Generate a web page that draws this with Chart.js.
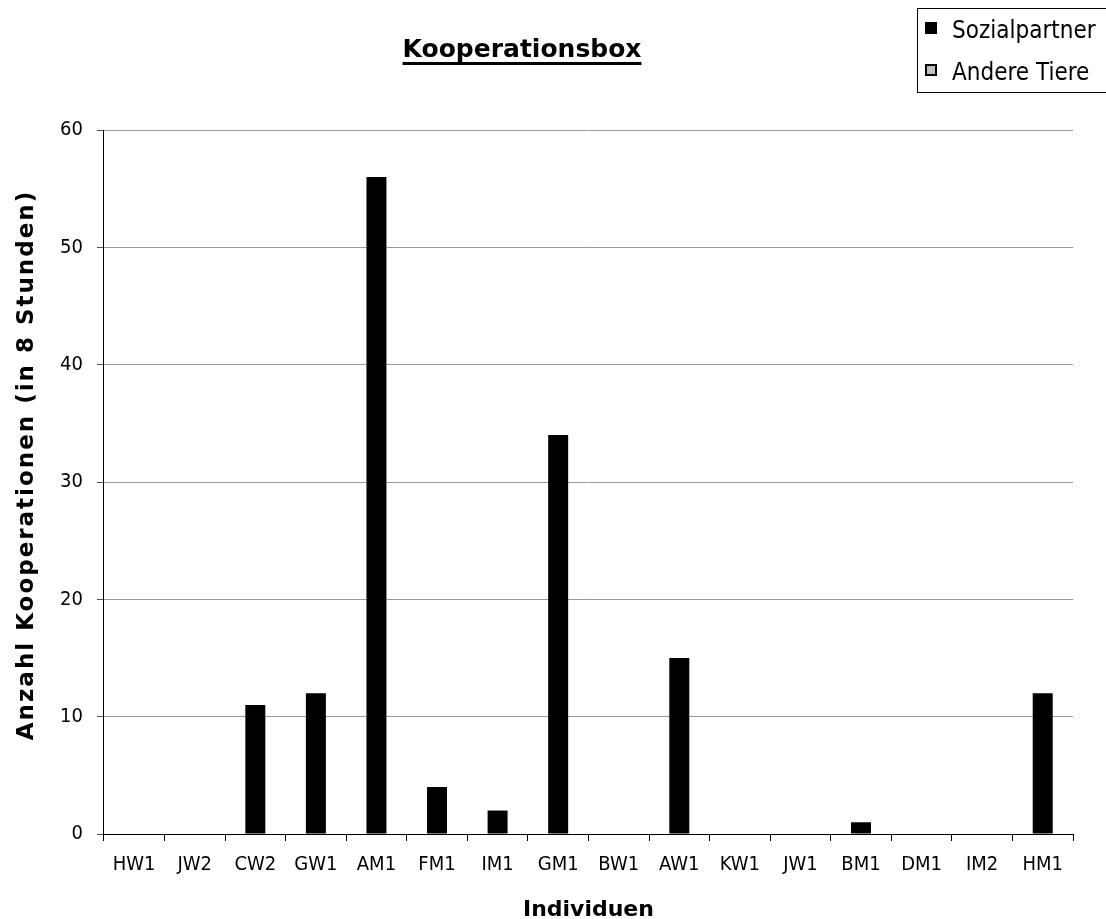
<!DOCTYPE html>
<html lang="de">
<head>
<meta charset="utf-8">
<title>Kooperationsbox</title>
<script src="https://cdn.jsdelivr.net/npm/chart.js@4"></script>
<style>
    html, body { margin: 0; padding: 0; background: #fff; }
    #wrap { width: 1106px; height: 919px; }
</style>
</head>
<body>
<div id="wrap">
    <canvas id="koopChart" width="1106" height="919"></canvas>
</div>
<script>
// Individuen auf der x-Achse
const individuen = ['HW1', 'JW2', 'CW2', 'GW1', 'AM1', 'FM1', 'IM1', 'GM1',
    'BW1', 'AW1', 'KW1', 'JW1', 'BM1', 'DM1', 'IM2', 'HM1'];

// Kooperationen mit Sozialpartner / mit anderen Tieren
const sozialpartner = [0, 0, 11, 12, 56, 4, 2, 34, 0, 15, 0, 0, 1, 0, 0, 12];
const andereTiere   = [0, 0, 0, 0, 0, 0, 0, 0, 0, 0, 0, 0, 0, 0, 0, 0];

// y-Achse
const yMin = 0;
const yMax = 60;
const yStep = 10;

const chartTitle = 'Kooperationsbox';
const xTitle = 'Individuen';
const yTitle = 'Anzahl Kooperationen (in 8 Stunden)';

const fontFamily = '"DejaVu Sans", Verdana, sans-serif';
const fontSchmal = '"DejaVu Sans Condensed", "Liberation Sans", sans-serif';

// Titel (unterstrichen), Achsentitel und Legende im Kasten
const beschriftung = {
    id: 'beschriftung',
    afterDraw(chart) {
        const ctx = chart.ctx;
        const area = chart.chartArea;
        ctx.save();
        ctx.fillStyle = '#000';

        // Diagrammtitel
        ctx.font = 'bold 25px ' + fontFamily;
        ctx.textAlign = 'center';
        ctx.textBaseline = 'alphabetic';
        const tx = 522, ty = 57;
        ctx.fillText(chartTitle, tx, ty);
        const tw = ctx.measureText(chartTitle).width;
        ctx.fillRect(tx - tw / 2, ty + 5, tw, 3);

        // x-Achsentitel
        ctx.font = 'bold 22px ' + fontFamily;
        ctx.fillText(xTitle, (area.left + area.right) / 2, 916);

        // y-Achsentitel, gedreht
        ctx.save();
        ctx.translate(33, 465);
        ctx.rotate(-Math.PI / 2);
        ctx.font = 'bold 23px ' + fontFamily;
        ctx.letterSpacing = '2px';
        ctx.textAlign = 'center';
        ctx.fillText(yTitle, 0, 0);
        ctx.restore();

        // Legende
        const lx = 917, ly = 8, lh = 84;
        ctx.strokeStyle = '#000';
        ctx.lineWidth = 1;
        ctx.strokeRect(lx + 0.5, ly + 0.5, 200, lh);
        ctx.font = '24px ' + fontSchmal;
        ctx.textAlign = 'left';
        chart.data.datasets.forEach((ds, i) => {
            const sy = 22 + i * 42;
            ctx.fillStyle = ds.backgroundColor;
            ctx.fillRect(925, sy, 12, 12);
            ctx.lineWidth = 2;
            ctx.strokeRect(926, sy + 1, 10, 10);
            ctx.fillStyle = '#000';
            ctx.fillText(ds.label, 952, sy + 16);
        });
        ctx.restore();
    }
};

const koopChart = new Chart(document.getElementById('koopChart'), {
    type: 'bar',
    data: {
        labels: individuen,
        datasets: [{
            label: 'Sozialpartner',
            data: sozialpartner,
            backgroundColor: '#000000',
            borderWidth: 0
        }, {
            label: 'Andere Tiere',
            data: andereTiere,
            backgroundColor: '#c0c0c0',
            borderWidth: 0
        }]
    },
    options: {
        responsive: false,
        animation: false,
        layout: {
            padding: { left: 46, right: 33, top: 130, bottom: 30 }
        },
        datasets: {
            bar: { barPercentage: 1.0, categoryPercentage: 0.33 }
        },
        plugins: {
            legend: { display: false },
            title: { display: false },
            tooltip: { enabled: false }
        },
        scales: {
            x: {
                stacked: true,
                grid: {
                    display: true,
                    drawOnChartArea: false,
                    offset: true,
                    tickLength: 7,
                    tickColor: '#000'
                },
                border: { color: '#000', width: 1 },
                ticks: {
                    color: '#000',
                    padding: 12,
                    font: { family: fontSchmal, size: 20 }
                }
            },
            y: {
                stacked: true,
                min: yMin,
                max: yMax,
                grid: {
                    color: '#999',
                    tickLength: 7,
                    tickColor: '#555'
                },
                border: { color: '#000', width: 1 },
                ticks: {
                    stepSize: yStep,
                    color: '#000',
                    padding: 14,
                    font: { family: fontSchmal, size: 20 }
                }
            }
        }
    },
    plugins: [beschriftung]
});
</script>
</body>
</html>
